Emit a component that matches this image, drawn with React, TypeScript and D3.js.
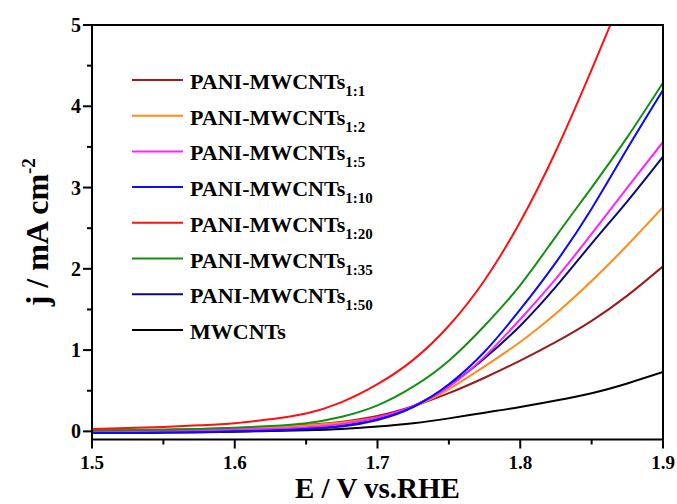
import React from 'react';
import * as d3 from 'd3';

// potential (V vs RHE)
const potentials = [1.5, 1.525, 1.55, 1.575, 1.6, 1.625, 1.65, 1.675, 1.7, 1.725, 1.75, 1.775, 1.8, 1.825, 1.85, 1.875, 1.9];

// current density (mA cm-2)
const pm11 = [0.01, 0.015, 0.02, 0.03, 0.04, 0.055, 0.08, 0.12, 0.19, 0.31, 0.47, 0.66, 0.87, 1.10, 1.36, 1.67, 2.03];
const pm12 = [0.0, 0.01, 0.015, 0.025, 0.035, 0.05, 0.075, 0.11, 0.17, 0.30, 0.52, 0.80, 1.10, 1.45, 1.85, 2.29, 2.76];
const pm15 = [0.0, 0.0, 0.005, 0.01, 0.02, 0.03, 0.05, 0.09, 0.17, 0.31, 0.55, 0.92, 1.38, 1.88, 2.43, 3.0, 3.56];
const pm110 = [-0.02, -0.02, -0.015, -0.01, 0.0, 0.01, 0.03, 0.06, 0.14, 0.30, 0.58, 0.98, 1.50, 2.08, 2.74, 3.48, 4.20];
const pm120 = [0.03, 0.04, 0.055, 0.075, 0.10, 0.15, 0.22, 0.36, 0.58, 0.88, 1.30, 1.86, 2.58, 3.45, 4.45, 5.5, 6.55];
const pm135 = [0.01, 0.015, 0.02, 0.03, 0.045, 0.065, 0.10, 0.18, 0.32, 0.55, 0.87, 1.30, 1.80, 2.40, 3.0, 3.62, 4.29];
const pm150 = [-0.01, -0.01, -0.01, -0.005, 0.0, 0.01, 0.03, 0.07, 0.15, 0.31, 0.56, 0.90, 1.30, 1.78, 2.31, 2.83, 3.38];
const mwcnt = [-0.02, -0.02, -0.015, -0.01, -0.005, 0.005, 0.015, 0.03, 0.06, 0.10, 0.16, 0.23, 0.30, 0.38, 0.47, 0.59, 0.73];

const seriesNames = ['1:1', '1:2', '1:5', '1:10', '1:20', '1:35', '1:50', ''];
const seriesValues = [pm11, pm12, pm15, pm110, pm120, pm135, pm150, mwcnt];
const seriesColors = ['#9b1c1c', '#ff8c1a', '#ff22ff', '#0a0aff', '#ff1010', '#119111', '#0a0a80', '#000000'];

const xTicks = [1.5, 1.6, 1.7, 1.8, 1.9];
const yTicks = [0, 1, 2, 3, 4, 5];

const W = 677;
const H = 504;
const left = 92, right = 663, top = 25, bottom = 439.5;
const font = '"Liberation Serif", "Times New Roman", serif';

export default function App() {
  const x = d3.scaleLinear().domain([1.5, 1.9]).range([left, right]);
  const y = d3.scaleLinear().domain([-0.1, 5]).range([bottom, top]);

  const line = d3.line<number>()
    .x((_, i) => x(potentials[i]))
    .y(d => y(d))
    .curve(d3.curveNatural);

  const xMinor = d3.range(0, 8).map(i => 1.55 + i * 0.1).filter(v => v < 1.9);
  const yMinor = d3.range(0, 5).map(i => 0.5 + i);

  // draw order: black at the back, red on top
  const order = [7, 0, 1, 6, 2, 3, 5, 4];

  return (
    <svg width={W} height={H} style={{ position: 'absolute', left: 0, top: 0, background: '#fff' }}
      fontFamily={font} fontWeight="bold">
      <defs>
        <clipPath id="plot">
          <rect x={left} y={top} width={right - left} height={bottom - top} />
        </clipPath>
      </defs>

      <g clipPath="url(#plot)">
        {order.map(i => (
          <path key={i} d={line(seriesValues[i]) || ''} fill="none"
            stroke={seriesColors[i]} strokeWidth={2} />
        ))}
      </g>

      {/* frame */}
      <rect x={left} y={top} width={right - left} height={bottom - top}
        fill="none" stroke="#000" strokeWidth={2} />

      {/* x ticks */}
      {xTicks.map(t => (
        <g key={'x' + t}>
          <line x1={x(t)} x2={x(t)} y1={bottom} y2={bottom + 9} stroke="#000" strokeWidth={2} />
          <text x={x(t)} y={469} textAnchor="middle" fontSize={19}>{t.toFixed(1)}</text>
        </g>
      ))}
      {xMinor.map(t => (
        <line key={'xm' + t} x1={x(t)} x2={x(t)} y1={bottom} y2={bottom + 5} stroke="#000" strokeWidth={2} />
      ))}

      {/* y ticks */}
      {yTicks.map(t => (
        <g key={'y' + t}>
          <line x1={left - 9} x2={left} y1={y(t)} y2={y(t)} stroke="#000" strokeWidth={2} />
          <text x={81} y={y(t) + 7} textAnchor="end" fontSize={20}>{t}</text>
        </g>
      ))}
      {yMinor.map(t => (
        <line key={'ym' + t} x1={left - 5} x2={left} y1={y(t)} y2={y(t)} stroke="#000" strokeWidth={2} />
      ))}

      {/* axis titles */}
      <text x={(left + right) / 2} y={497.5} textAnchor="middle" fontSize={29}>E / V vs.RHE</text>
      <text transform={`translate(48, ${(top + bottom) / 2}) rotate(-90)`} textAnchor="middle" fontSize={32}>
        j / mA cm<tspan fontSize={19} dy={-13}>-2</tspan>
      </text>

      {/* legend */}
      {seriesNames.map((name, i) => {
        const ly = 80 + i * 35.7;
        return (
          <g key={'l' + i}>
            <line x1={132} x2={183} y1={ly} y2={ly} stroke={seriesColors[i]} strokeWidth={2} />
            {name ? (
              <text x={190} y={ly + 9} fontSize={22}>
                PANI-MWCNTs<tspan fontSize={15} dy={7}>{name}</tspan>
              </text>
            ) : (
              <text x={190} y={ly + 9} fontSize={22}>MWCNTs</text>
            )}
          </g>
        );
      })}
    </svg>
  );
}
